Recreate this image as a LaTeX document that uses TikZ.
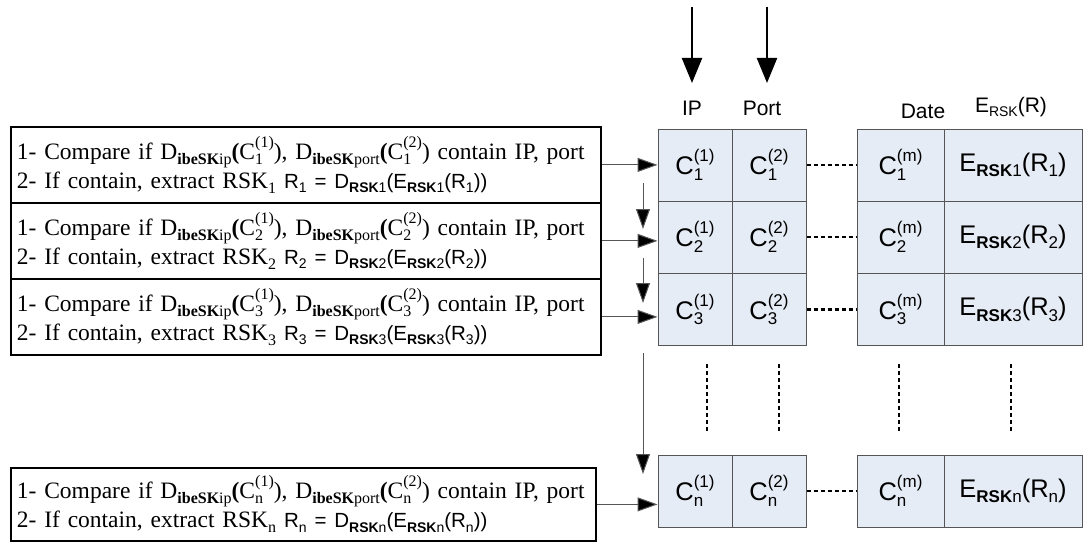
\documentclass[tikz,border=0pt]{standalone}
\usepackage{fontspec}
\setmainfont{Liberation Serif}
\setsansfont{Liberation Sans}
\usetikzlibrary{arrows.meta}
\definecolor{cellfill}{HTML}{E6ECF6}
\definecolor{linegray}{HTML}{555555}
\newcommand\lo[2][16]{\raisebox{-0.22em}{\fontsize{#1}{#1}\selectfont #2}}
\newcommand\hi[2][16]{\raisebox{0.5em}{\fontsize{#1}{#1}\selectfont #2}}
\newcommand\lohi[3][16]{\makebox[0pt][l]{\lo[#1]{#2}}\hi[#1]{#3}}
\newcommand\sfpart[1]{{\sffamily\fontsize{20.5}{29}\selectfont #1}}
\begin{document}
\begin{tikzpicture}[x=1pt,y=-1pt,
  cellbox/.style={draw=linegray, line width=1pt, fill=cellfill, minimum height=72pt, inner sep=0pt,
    font=\sffamily\fontsize{25.5}{25.5}\selectfont},
  textbox/.style={draw=black, line width=1.8pt, minimum height=76pt, inner xsep=6pt, inner ysep=0pt,
    text width=578pt, align=left, font=\fontsize{23.5}{29}\selectfont, anchor=north west},
  hdr/.style={font=\sffamily\fontsize{21}{21}\selectfont, inner sep=0pt},
  arr/.style={draw=linegray, line width=1pt, -{Triangle[length=20pt,width=14pt,fill=black]}},
  toparr/.style={draw=black, line width=2.2pt, -{Triangle[length=25pt,width=20pt]}},
  dotline/.style={draw=black, line width=2.4pt, dash pattern=on 4pt off 3pt}]
\useasboundingbox (0,0) rectangle (1085,543);

% headers
\node[hdr] (hip) at (692,108) {IP};
\node[hdr] (hport) at (762,108) {Port};
\node[hdr] (hdate) at (923,111) {Date};
\node[hdr] (hersk) at (1011,107) {E\lo[14]{RSK}(R)};
\coordinate (t1a) at (692,7); \coordinate (t1b) at (692,83);
\coordinate (t2a) at (767,7); \coordinate (t2b) at (767,83);
\draw[toparr] (t1a) -- (t1b);
\draw[toparr] (t2a) -- (t2b);

% table rows
\foreach \r/\y in {1/165,2/237,3/309.5,n/491}{
  \node[cellbox, minimum width=74pt] (c\r-1) at (695,\y) {C\lohi[17]{\r}{(1)}};
  \node[cellbox, minimum width=74pt] (c\r-2) at (769,\y) {C\lohi[17]{\r}{(2)}};
  \node[cellbox, minimum width=87pt] (c\r-3) at (900.5,\y) {C\lohi[17]{\r}{(m)}};
  \node[cellbox, minimum width=138pt] (c\r-4) at (1013,\y) {E\lo[17]{\textbf{RSK}\r}(R\lo[17]{\r})};
  \draw[dotline] (c\r-2.east) -- (c\r-3.west);
}

% vertical dotted
\foreach \x in {707,779,899,1011}{
  \coordinate (va\x) at (\x,364); \coordinate (vb\x) at (\x,433);
  \draw[dotline] (va\x) -- (vb\x);
}

% text boxes
\foreach \r/\y in {1/126,2/202,3/278}{
  \node[textbox] (b\r) at (10,\y) {1- Compare if D\lo{\textbf{ibeSK}ip}\textbf{(}C\lohi{\r}{(1)}), D\lo{\textbf{ibeSK}port}\textbf{(}C\lohi{\r}{(2)}) contain IP, port\\
  2- If contain, extract RSK\lo{\r}\hspace{8pt}\sfpart{R\lo[14]{\r} = D\lo[14]{\textbf{RSK}\r}(E\lo[14]{\textbf{RSK}\r}(R\lo[14]{\r}))}};
  \draw[arr] (b\r.east) -- (c\r-1.west |- b\r.east);
}
\node[textbox, text width=573pt, minimum height=73pt] (bn) at (10,467) {1- Compare if D\lo{\textbf{ibeSK}ip}\textbf{(}C\lohi{n}{(1)}), D\lo{\textbf{ibeSK}port}\textbf{(}C\lohi{n}{(2)}) contain IP, port\\
  2- If contain, extract RSK\lo{n}\hspace{8pt}\sfpart{R\lo[14]{n} = D\lo[14]{\textbf{RSK}n}(E\lo[14]{\textbf{RSK}n}(R\lo[14]{n}))}};
\draw[arr] (bn.east) -- (cn-1.west |- bn.east);

% vertical arrows
\coordinate (v1a) at (643,183); \coordinate (v1b) at (643,229);
\coordinate (v2a) at (643,258); \coordinate (v2b) at (643,303);
\coordinate (v3a) at (643,353); \coordinate (v3b) at (643,474);
\draw[arr] (v1a) -- (v1b);
\draw[arr] (v2a) -- (v2b);
\draw[arr] (v3a) -- (v3b);
\end{tikzpicture}
\end{document}
